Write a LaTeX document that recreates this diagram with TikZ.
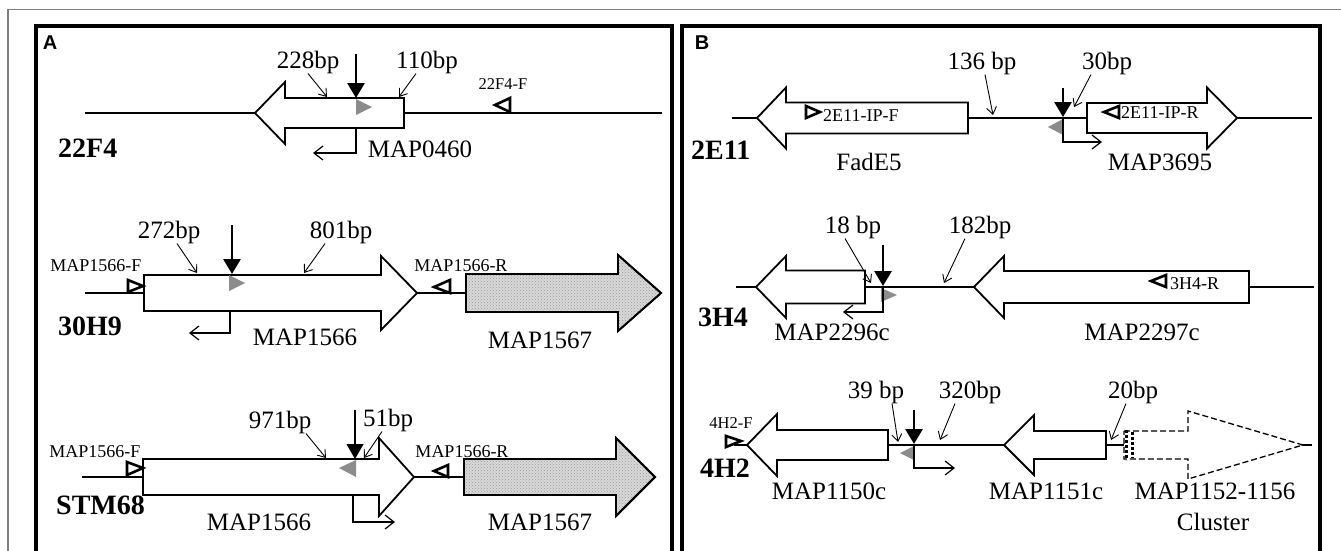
\documentclass[tikz,border=0pt]{standalone}
\usepackage{fontspec}
\setmainfont{Liberation Serif}
\setsansfont{Liberation Sans}
\usetikzlibrary{arrows.meta,patterns}
\newcommand{\geneL}[7]{\draw[#7] (#1,#4) -- (#2,#4-#6) -- (#2,#4-#5) -- (#3,#4-#5) -- (#3,#4+#5) -- (#2,#4+#5) -- (#2,#4+#6) -- cycle;}
\newcommand{\geneR}[7]{\draw[#7] (#3,#4-#5) -- (#2,#4-#5) -- (#2,#4-#6) -- (#1,#4) -- (#2,#4+#6) -- (#2,#4+#5) -- (#3,#4+#5) -- cycle;}
\tikzset{
  gene/.style={draw=black, line width=1.8pt, fill=white, line join=miter},
  dotgene/.style={draw=black, line width=1.8pt, fill=gray!30, line join=miter},
  dashgene/.style={draw=black, line width=1.3pt, dash pattern=on 6pt off 3pt, fill=white},
  back/.style={line width=2pt},
  lab/.style={line width=0.9pt, -{Straight Barb[length=7pt,width=10pt]}},
  prom/.style={line width=1.2pt, -{Straight Barb[length=9pt,width=14pt]}},
  ins/.style={line width=2.8pt, -{Triangle[length=15pt,width=17pt]}},
  insthin/.style={line width=1.1pt, -{Triangle[length=15pt,width=17pt]}},
  primer/.style={draw=black, line width=2.6pt, fill=white, line join=miter},
  grayt/.style={fill=black!45},
  bp/.style={font=\fontsize{25}{25}\selectfont, inner sep=0pt},
  small/.style={font=\fontsize{18}{18}\selectfont, inner sep=0pt},
  smaller/.style={font=\fontsize{16.5}{16.5}\selectfont, inner sep=0pt},
  rowlab/.style={font=\fontsize{28}{28}\selectfont\bfseries, inner sep=0pt, anchor=west},
  plab/.style={font=\fontsize{20}{20}\selectfont\sffamily\bfseries, inner sep=0pt},
  panel/.style={line width=3.5pt}
}
\begin{document}
\begin{tikzpicture}[x=1pt,y=-1pt]
\useasboundingbox (0,0) rectangle (1341,550);
\clip (0,0) rectangle (1341,550);
\fill[white] (0,0) rectangle (1341,550);
% outer frame
\draw[line width=1.5pt, black!50] (8,580) -- (8,9.5) -- (1360,9.5);
% panels
\draw[panel] (36,26) rectangle (672,580);
\draw[panel] (682,26) rectangle (1320,580);
\node[plab] (pA) at (50,43) {A};
\node[plab] (pB) at (702,43) {B};

% ================= Panel A row 1: 22F4
\coordinate (a1l) at (85,113); \coordinate (a1r) at (662,113);
\draw[back] (a1l) -- (a1r);
\geneL{255}{285}{404}{113}{15}{31}{gene}
\fill[grayt] (356,99) -- (356,115) -- (372,107) -- cycle;
\coordinate (i1s) at (356,54); \coordinate (i1e) at (356,98);
\draw[ins] (i1s) -- (i1e);
\draw[primer] (495,105) -- (510,98) -- (510,112) -- cycle;
\node[smaller] (p22F) at (503,84) {22F4-F};
\node[bp] (t228) at (308,62) {228bp};
\node[bp] (t110) at (427,62) {110bp};
\coordinate (e228) at (327,97); \coordinate (e110) at (399,97);
\draw[lab] (t228.south) -- (e228);
\draw[lab] ([xshift=-11pt]t110.south) -- (e110);
\coordinate (pr1a) at (356,128); \coordinate (pr1b) at (313,153);
\draw[prom] (pr1a) |- (pr1b);
\node[bp] (g0460) at (420,149) {MAP0460};
\node[rowlab] (r22F4) at (58,148) {22F4};

% ================= Panel A row 2: 30H9
\coordinate (a2l) at (85,293); \coordinate (a2r) at (466,293);
\draw[back] (a2l) -- (a2r);
\geneR{417}{381}{144}{293}{18}{37}{gene}
\geneR{661}{618}{466}{293}{19}{38}{dotgene}
\fill[pattern=crosshatch dots, pattern color=gray!80] (466,274) -- (618,274) -- (618,255) -- (661,293) -- (618,331) -- (618,312) -- (466,312) -- cycle;
\geneR{661}{618}{466}{293}{19}{38}{draw=black, line width=1.8pt}
\fill[grayt] (229,275) -- (229,291) -- (245,283) -- cycle;
\coordinate (i2s) at (232,225); \coordinate (i2e) at (232,274);
\draw[ins] (i2s) -- (i2e);
\node[bp] (t272) at (169,232) {272bp};
\node[bp] (t801) at (341,232) {801bp};
\coordinate (e272) at (197,273); \coordinate (e801) at (304,273);
\draw[lab] ([xshift=8pt]t272.south) -- (e272);
\draw[lab] ([xshift=-16pt]t801.south) -- (e801);
\draw[primer] (128,280) -- (128,292) -- (143,286) -- cycle;
\node[small] (pF2) at (96,266) {MAP1566-F};
\draw[primer] (434,287) -- (450,280) -- (450,293) -- cycle;
\node[small] (pR2) at (461,266) {MAP1566-R};
\coordinate (pr2a) at (230,311); \coordinate (pr2b) at (189,333);
\draw[prom] (pr2a) |- (pr2b);
\node[rowlab] (r30H9) at (58,326) {30H9};
\node[bp] (g1566a) at (305,337) {MAP1566};
\node[bp] (g1567a) at (540,340) {MAP1567};

% ================= Panel A row 3: STM68
\coordinate (a3l) at (82,477); \coordinate (a3r) at (464,477);
\draw[back] (a3l) -- (a3r);
\geneR{414}{379}{143}{477}{18}{39}{gene}
\geneR{655}{616}{464}{477}{18}{39}{dotgene}
\fill[pattern=crosshatch dots, pattern color=gray!80] (464,459) -- (616,459) -- (616,438) -- (655,477) -- (616,516) -- (616,495) -- (464,495) -- cycle;
\geneR{655}{616}{464}{477}{18}{39}{draw=black, line width=1.8pt}
\fill[grayt] (356,460) -- (356,477) -- (339,468) -- cycle;
\coordinate (i3s) at (355,410); \coordinate (i3e) at (355,459);
\draw[insthin] (i3s) -- (i3e);
\node[bp] (t971) at (280,422) {971bp};
\node[bp] (t51) at (388,420) {51bp};
\coordinate (e971) at (326,458); \coordinate (e51) at (364,458);
\draw[lab] ([xshift=26pt]t971.south) -- (e971);
\draw[lab] ([xshift=-6pt]t51.south) -- (e51);
\draw[primer] (127,462) -- (127,475) -- (143,468) -- cycle;
\node[small] (pF3) at (95,452) {MAP1566-F};
\draw[primer] (434,471) -- (448,465) -- (448,477) -- cycle;
\node[small] (pR3) at (462,452) {MAP1566-R};
\coordinate (pr3a) at (353,495); \coordinate (pr3b) at (395,522);
\draw[prom] (pr3a) |- (pr3b);
\node[rowlab] (rSTM) at (56,505) {STM68};
\node[bp] (g1566b) at (259,522) {MAP1566};
\node[bp] (g1567b) at (540,522) {MAP1567};

% ================= Panel B row 1: 2E11
\coordinate (b1l) at (732,118); \coordinate (b1r) at (1312,118);
\draw[back] (b1l) -- (b1r);
\geneL{757}{786}{968}{118}{15.5}{30.5}{gene}
\geneR{1237}{1207}{1087}{118}{15}{30.5}{gene}
\fill[grayt] (1063,119) -- (1063,135) -- (1048,127) -- cycle;
\coordinate (i4s) at (1063,88); \coordinate (i4e) at (1063,117);
\draw[ins] (i4s) -- (i4e);
\coordinate (pr4a) at (1063,118); \coordinate (pr4b) at (1102,142);
\draw[prom] (pr4a) |- (pr4b);
\node[bp] (t136) at (982,63) {136 bp};
\node[bp] (t30) at (1107,63) {30bp};
\coordinate (e136) at (993,115); \coordinate (e30) at (1074,107);
\draw[lab] ([xshift=3pt]t136.south) -- (e136);
\draw[lab] ([xshift=-16pt]t30.south) -- (e30);
\draw[primer] (806,106) -- (806,118) -- (820,112) -- cycle;
\node[small, anchor=west] (pIPF) at (823,116) {2E11-IP-F};
\draw[primer] (1104,112) -- (1119,106) -- (1119,118) -- cycle;
\node[small, anchor=west] (pIPR) at (1121,113) {2E11-IP-R};
\node[rowlab] (r2E11) at (691,150) {2E11};
\node[bp] (gFad) at (869,162) {FadE5};
\node[bp] (g3695) at (1160,162) {MAP3695};

% ================= Panel B row 2: 3H4
\coordinate (b2l) at (736,287); \coordinate (b2r) at (1314,287);
\draw[back] (b2l) -- (b2r);
\geneL{756}{786}{865}{287}{16.5}{31}{gene}
\geneL{974}{1004}{1249}{287}{16}{31}{gene}
\fill[grayt] (881,288) -- (881,302) -- (897,295) -- cycle;
\coordinate (i5s) at (883,245); \coordinate (i5e) at (883,286);
\draw[ins] (i5s) -- (i5e);
\coordinate (pr5a) at (883,287); \coordinate (pr5b) at (843,312);
\draw[prom] (pr5a) |- (pr5b);
\node[bp] (t18) at (853,227) {18 bp};
\node[bp] (t182) at (980,227) {182bp};
\coordinate (e18) at (871,283); \coordinate (e182) at (944,283);
\draw[lab] ([xshift=-8pt]t18.south) -- (e18);
\draw[lab] ([xshift=-15pt]t182.south) -- (e182);
\draw[primer] (1151,281) -- (1166,275) -- (1166,287) -- cycle;
\node[small, anchor=west] (p3H4R) at (1170,284) {3H4-R};
\node[rowlab] (r3H4) at (698,317) {3H4};
\node[bp] (g2296) at (832,332) {MAP2296c};
\node[bp] (g2297) at (1142,332) {MAP2297c};

% ================= Panel B row 3: 4H2
\coordinate (b3l) at (734,445); \coordinate (b3r) at (1312,445);
\draw[back] (b3l) -- (b3r);
\geneL{747}{777}{888}{445}{15}{31}{gene}
\geneL{1004}{1034}{1106}{445}{14}{30}{gene}
\geneR{1303}{1188}{1124}{445}{14}{34}{dashgene}
\draw[line width=3pt, dash pattern=on 3pt off 2pt] (1126,430) -- (1126,460);
\draw[line width=3pt, dash pattern=on 3pt off 2pt] (1132,432) -- (1132,458);
\fill[grayt] (914,446) -- (914,460) -- (900,453) -- cycle;
\coordinate (i6s) at (914,410); \coordinate (i6e) at (914,444);
\draw[ins] (i6s) -- (i6e);
\coordinate (pr6a) at (914,445); \coordinate (pr6b) at (955,468);
\draw[prom] (pr6a) |- (pr6b);
\node[bp] (t39) at (876,392) {39 bp};
\node[bp] (t320) at (970,392) {320bp};
\node[bp] (t20) at (1133,392) {20bp};
\coordinate (e39) at (898,442); \coordinate (e320) at (940,440); \coordinate (e20) at (1111,440);
\draw[lab] ([xshift=16pt]t39.south) -- (e39);
\draw[lab] ([xshift=-15pt]t320.south) -- (e320);
\draw[lab] ([xshift=-7pt]t20.south) -- (e20);
\draw[primer] (726,436) -- (726,447) -- (741,441) -- cycle;
\node[smaller] (p4H2F) at (731,423) {4H2-F};
\node[rowlab] (r4H2) at (700,468) {4H2};
\node[bp] (g1150) at (829,491) {MAP1150c};
\node[bp] (g1151) at (1046,491) {MAP1151c};
\node[bp] (g1152) at (1215,491) {MAP1152-1156};
\node[bp] (gcl) at (1213,522) {Cluster};
\end{tikzpicture}
\end{document}
